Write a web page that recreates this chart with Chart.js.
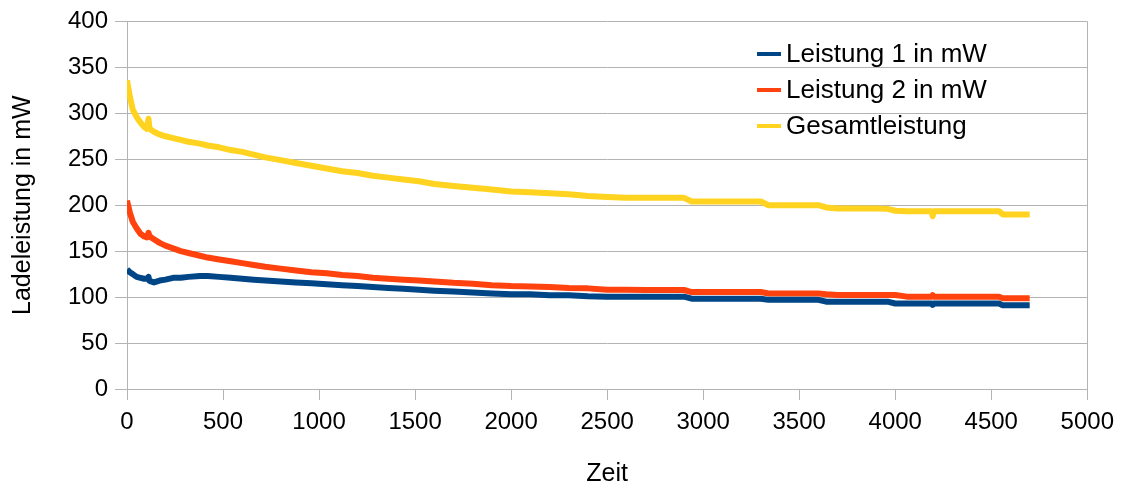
<!DOCTYPE html>
<html>
<head>
<meta charset="utf-8">
<script src="https://cdn.jsdelivr.net/npm/chart.js@4"></script>
<style>
  body { margin: 0; background: #fff; }
  #wrap { width: 1122px; height: 489px; }
</style>
</head>
<body>
<div id="wrap"><canvas id="ladung" width="1122" height="489"></canvas></div>
<script>
// ====== Data ======
var zeit = [0, 15, 30, 50, 70, 90, 104, 112, 116, 125, 140, 170, 200, 240, 280, 320, 380, 420, 480, 540,
    600, 660, 720, 800, 880, 960, 1040, 1120, 1200, 1280, 1360, 1440, 1520, 1600, 1700, 1800, 1900, 2000,
    2100, 2200, 2300, 2400, 2500, 2600, 2700, 2800, 2900, 2940, 3000, 3100, 3200, 3300, 3340, 3400, 3500,
    3600, 3640, 3700, 3800, 3900, 3960, 4000, 4060, 4100, 4190, 4195, 4200, 4300, 4400, 4540, 4560, 4600, 4700];

var leistung1 = [130, 127, 125, 122, 121, 120, 120, 122, 118, 117, 116, 118, 119, 121, 121, 122, 123, 123, 122, 121,
    120, 119, 118, 117, 116, 115, 114, 113, 112, 111, 110, 109, 108, 107, 106, 105, 104, 103,
    103, 102, 102, 101, 100.5, 100.5, 100.5, 100.5, 100.5, 98.3, 98.3, 98.3, 98.3, 98.3, 97, 97, 97,
    97, 95, 95, 95, 95, 95, 93, 93, 93, 93, 91.5, 93, 93, 93, 93, 91, 91, 91];

var leistung2 = [205, 192, 182, 175, 169, 166, 165, 170, 167, 165, 163, 159, 156, 153, 150, 148, 145, 143, 141, 139,
    137, 135, 133, 131, 129, 127, 126, 124, 123, 121, 120, 119, 118, 117, 115.5, 114.5, 113, 112,
    111.5, 111, 110, 109.5, 108, 108, 107.7, 107.7, 107.7, 105.5, 105.5, 105.5, 105.5, 105.5, 104, 104, 104,
    104, 103, 102.3, 102.3, 102.3, 102.3, 102.3, 100.5, 100.5, 100.5, 102, 100.5, 100.5, 100.5, 100.5, 98.7, 98.7, 98.7];

var gesamt = [336, 318, 304, 296, 290, 285, 283, 294, 285, 282, 280, 277, 275, 273, 271, 269, 267, 265, 263, 260,
    258, 255, 252, 249, 246, 243, 240, 237, 235, 232, 230, 228, 226, 223, 221, 219, 217, 215,
    214, 213, 212, 210, 209, 208, 208, 208, 208, 204, 204, 204, 204, 204, 200, 200, 200,
    200, 197.5, 196.5, 196.5, 196.5, 196, 194, 193.5, 193.5, 193.5, 188, 193.5, 193.5, 193.5, 193.5, 190, 190, 190];

var serienNamen = ['Leistung 1 in mW', 'Leistung 2 in mW', 'Gesamtleistung'];
var serienFarben = ['#004586', '#ff420e', '#ffd320'];

//Combine time and values into point objects
function punkte(werte) {
    return zeit.map(function(t, i) {
        return { x: t, y: werte[i] };
    });
}

var grau = '#b3b3b3';
var schrift = 'Liberation Sans, Arial, sans-serif';

// ====== Legend drawn inside the plot, top right ======
var innenLegende = {
    id: 'innenLegende',
    afterDraw: function(chart) {
        var ctx = chart.ctx;
        var zeilenY = [54, 90, 126];
        ctx.save();
        ctx.font = '26px ' + schrift;
        ctx.textBaseline = 'middle';
        ctx.fillStyle = '#000';
        chart.data.datasets.forEach(function(ds, i) {
            ctx.strokeStyle = ds.borderColor;
            ctx.lineWidth = 4;
            ctx.beginPath();
            ctx.moveTo(757, zeilenY[i]);
            ctx.lineTo(781, zeilenY[i]);
            ctx.stroke();
            ctx.fillText(ds.label, 786, zeilenY[i] + 1);
        });
        ctx.restore();
    }
};

var ctx1 = document.getElementById('ladung');
var ladeChart = new Chart(ctx1, {
    type: 'line',
    data: {
        datasets: [
            { label: serienNamen[0], data: punkte(leistung1), borderColor: serienFarben[0] },
            { label: serienNamen[1], data: punkte(leistung2), borderColor: serienFarben[1] },
            { label: serienNamen[2], data: punkte(gesamt), borderColor: serienFarben[2] }
        ]
    },
    options: {
        responsive: false,
        animation: false,
        layout: { padding: { top: 21, right: 33, left: 0, bottom: 0 } },
        elements: {
            line: { borderWidth: 6, tension: 0, borderCapStyle: 'butt', borderJoinStyle: 'round' },
            point: { radius: 0 }
        },
        plugins: {
            legend: { display: false },
            tooltip: { enabled: false }
        },
        scales: {
            x: {
                type: 'linear',
                min: 0,
                max: 5000,
                afterFit: function(scale) { scale.height = 100; },
                ticks: {
                    stepSize: 500,
                    padding: 8,
                    color: '#000',
                    font: { family: schrift, size: 24 },
                    maxRotation: 0,
                    callback: function(v) { return String(v); }
                },
                grid: {
                    color: function(c) { return c.tick && c.tick.value === 5000 ? grau : 'rgba(0,0,0,0)'; },
                    tickColor: grau,
                    tickLength: 11,
                    lineWidth: 1
                },
                border: { color: grau },
                title: {
                    display: true,
                    text: 'Zeit',
                    color: '#000',
                    font: { family: schrift, size: 25 },
                    padding: { top: 0, bottom: 0 }
                }
            },
            y: {
                min: 0,
                max: 400,
                afterFit: function(scale) { scale.width = 127; },
                ticks: {
                    stepSize: 50,
                    padding: 7,
                    color: '#000',
                    font: { family: schrift, size: 24 },
                    callback: function(v) { return String(v); }
                },
                grid: { color: grau, tickLength: 12, lineWidth: 1 },
                border: { color: grau },
                title: {
                    display: true,
                    text: 'Ladeleistung in mW',
                    color: '#000',
                    font: { family: schrift, size: 25 },
                    padding: { top: 8, bottom: 0 }
                }
            }
        }
    },
    plugins: [innenLegende]
});
</script>
</body>
</html>
